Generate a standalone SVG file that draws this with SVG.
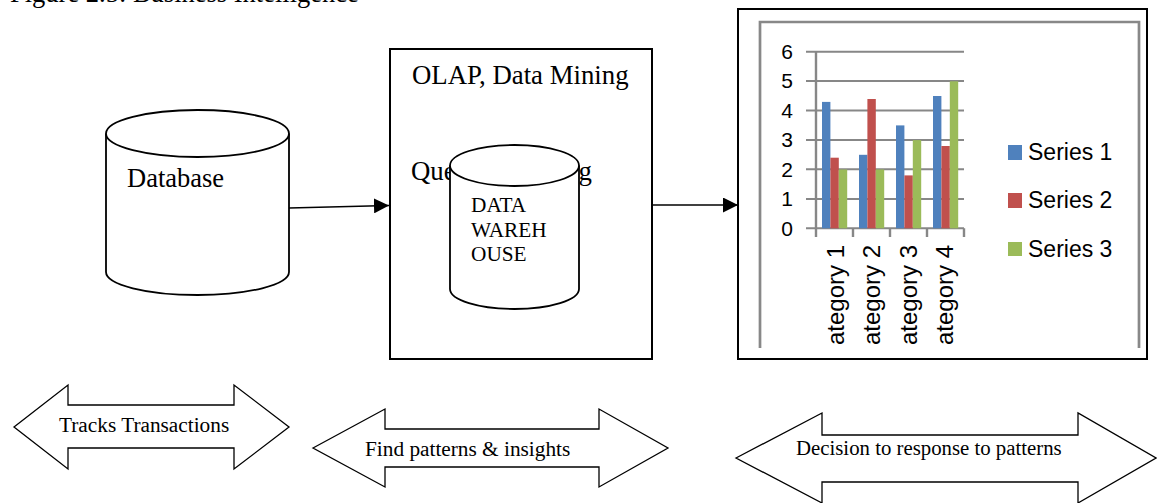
<svg xmlns="http://www.w3.org/2000/svg" width="1157" height="503" viewBox="0 0 1157 503">
<style>
.serif{font-family:"Liberation Serif","Times New Roman",serif;fill:#000}
.sans{font-family:"Liberation Sans",Arial,sans-serif;fill:#000}
.shape{fill:#fff;stroke:#000;stroke-width:1.8}
.big{fill:#fff;stroke:#000;stroke-width:2}
.dbl{fill:#fff;stroke:#000;stroke-width:1.3}
.grid{stroke:#878787;stroke-width:2;fill:none}
.conn{stroke:#000;stroke-width:1.5;fill:none}
</style>
<defs>
<marker id="ah" markerWidth="15" markerHeight="15" refX="15" refY="7.5" orient="auto" markerUnits="userSpaceOnUse">
<path d="M0,0 L15,7.5 L0,15 Z" fill="#000"/>
</marker>
<clipPath id="chartclip"><rect x="740" y="10" width="405" height="335"/></clipPath>
</defs>
<rect width="1157" height="503" fill="#fff"/>

<g id="title">
<text class="serif" x="10" y="1.5" font-size="26.5">Figure 2.5: Business Intelligence</text>
</g>

<g id="database">
<path class="shape" d="M106,133.5 V272 A91.5,23 0 0 0 289,272 V133.5"/>
<ellipse class="shape" cx="197.5" cy="133.5" rx="91.5" ry="23.5"/>
<text class="serif" x="127" y="187" font-size="26.5">Database</text>
</g>

<g id="olap">
<rect class="big" x="390" y="49" width="262" height="310"/>
<text class="serif" x="412" y="84" font-size="26.8">OLAP, Data Mining</text>
<text class="serif" x="411" y="180" font-size="26.8">Query Reporting</text>
</g>

<g id="warehouse">
<path class="shape" d="M450,165.5 V289 A64.5,20 0 0 0 579,289 V165.5"/>
<ellipse class="shape" cx="514.5" cy="165.5" rx="64.5" ry="20.5"/>
<text class="serif" font-size="21.3"><tspan x="471" y="212">DATA</tspan><tspan x="471" y="236.5">WAREH</tspan><tspan x="471" y="261">OUSE</tspan></text>
</g>

<g id="chart">
<rect class="big" x="738" y="9" width="409" height="350"/>
<path d="M760,348 V22 H1139 V348" fill="none" stroke="#888" stroke-width="2.7"/>
<g class="grid">
<path d="M806,51.7 H964 M806,81.1 H964 M806,110.5 H964 M806,139.9 H964 M806,169.3 H964 M806,198.9 H964 M806,228.3 H964"/>
<path d="M816,51.7 V237 M853,228.3 V237 M890,228.3 V237 M927,228.3 V237 M964,228.3 V237" stroke-width="2.4"/>
</g>
<g class="sans" font-size="21" text-anchor="end">
<text x="793" y="59">6</text>
<text x="793" y="88.4">5</text>
<text x="793" y="117.8">4</text>
<text x="793" y="147.2">3</text>
<text x="793" y="176.6">2</text>
<text x="793" y="206.2">1</text>
<text x="793" y="235.6">0</text>
</g>
<g id="series1" fill="#4F81BD">
<rect x="822" y="101.9" width="8.4" height="126.4"/>
<rect x="859" y="154.8" width="8.4" height="73.5"/>
<rect x="896" y="125.4" width="8.4" height="102.9"/>
<rect x="933" y="96.0" width="8.4" height="132.3"/>
</g>
<g id="series2" fill="#C0504D">
<rect x="830.4" y="157.7" width="8.4" height="70.6"/>
<rect x="867.4" y="99.0" width="8.4" height="129.3"/>
<rect x="904.4" y="175.4" width="8.4" height="52.9"/>
<rect x="941.4" y="146.0" width="8.4" height="82.3"/>
</g>
<g id="series3" fill="#9BBB59">
<rect x="838.8" y="169.5" width="8.4" height="58.8"/>
<rect x="875.8" y="169.5" width="8.4" height="58.8"/>
<rect x="912.8" y="140.1" width="8.4" height="88.2"/>
<rect x="949.8" y="81.3" width="8.4" height="147"/>
</g>
<g clip-path="url(#chartclip)" class="sans" font-size="24" text-anchor="end">
<text transform="translate(844,245) rotate(-90)">Category 1</text>
<text transform="translate(880,245) rotate(-90)">Category 2</text>
<text transform="translate(917,245) rotate(-90)">Category 3</text>
<text transform="translate(953,245) rotate(-90)">Category 4</text>
</g>
<g id="legend" class="sans" font-size="23">
<rect x="1008" y="145" width="14" height="15" fill="#4F81BD"/>
<text x="1028" y="160">Series 1</text>
<rect x="1008" y="193" width="14" height="15" fill="#C0504D"/>
<text x="1028" y="208">Series 2</text>
<rect x="1008" y="242" width="14" height="14" fill="#9BBB59"/>
<text x="1028" y="257">Series 3</text>
</g>
</g>

<g id="connectors">
<line class="conn" x1="289" y1="208" x2="389" y2="205.5" marker-end="url(#ah)"/>
<line class="conn" x1="652" y1="205" x2="738" y2="205" marker-end="url(#ah)"/>
</g>

<g id="arrow-tracks">
<polygon class="dbl" points="14,427 68,385 68,405 234,405 234,385 289,427 234,469 234,448 68,448 68,469"/>
<text class="serif" x="59" y="432" font-size="21.3">Tracks Transactions</text>
</g>

<g id="arrow-find">
<polygon class="dbl" points="313,448 385,409 385,429 599,429 599,409 668,448 599,487 599,467 385,467 385,487"/>
<text class="serif" x="365" y="456" font-size="21.3">Find patterns &amp; insights</text>
</g>

<g id="arrow-decision">
<polygon class="dbl" points="736,458 822,413 822,435 1078,435 1078,413 1156,458 1078,503 1078,482 822,482 822,503"/>
<text class="serif" x="796" y="455" font-size="20.8">Decision to response to patterns</text>
</g>
</svg>
